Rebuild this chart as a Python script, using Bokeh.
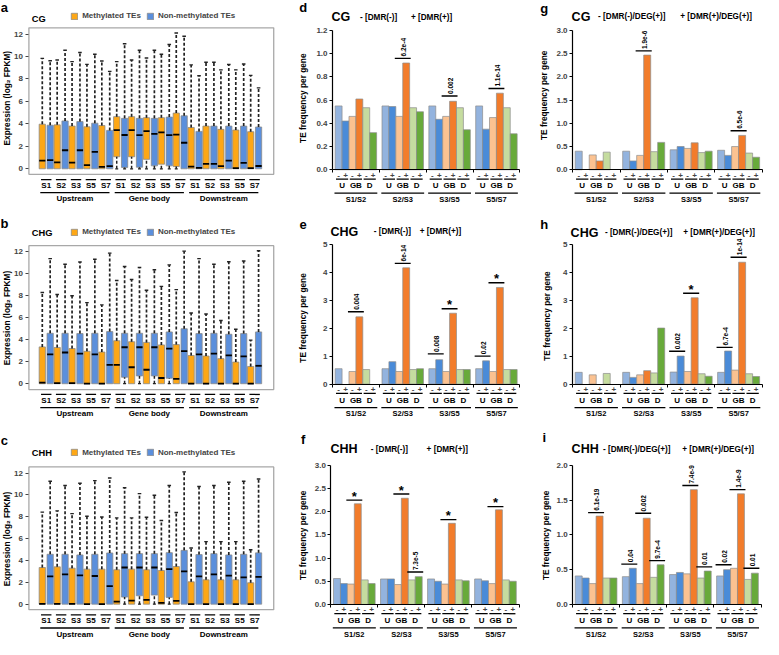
import math
from bokeh.plotting import figure
from bokeh.models import (Range1d, LinearAxis, FixedTicker, NumeralTickFormatter,
                          Legend, LegendItem)
from bokeh.layouts import row, column
from bokeh.embed import file_html
from bokeh.resources import INLINE
from bokeh.core.properties import value

FONT = "Liberation Sans"

# ---------------- category / tick labels ----------------
samples = ["S1", "S2", "S3", "S5", "S7"]
regions = ["Upstream", "Gene body", "Downstream"]
box_legend = ["Methylated TEs", "Non-methylated TEs"]
box_yticks = [0, 2, 4, 6, 8, 10, 12]
comparisons = ["S1/S2", "S2/S3", "S3/S5", "S5/S7"]
features = ["U", "GB", "D"]
signs = ["-", "+"]

# ---------------- panels a-c: box statistics (log2 FPKM) ----------------
# order: Upstream S1,S2,S3,S5,S7 | Gene body S1..S7 | Downstream S1..S7
cg_met_q1 = [0, 0, 0, 0, 0, 1.07, 1.07, 0.84, 0.41, 0.20, 0, 0, 0, 0, 0]
cg_met_med = [0.72, 0.58, 0.55, 0.32, 0.17, 3.45, 3.45, 3.36, 3.25, 3.04, 0.20, 0.43, 0.23, 0.06, 0.06]
cg_met_q3 = [3.97, 3.91, 3.80, 3.74, 3.85, 4.64, 4.64, 4.55, 4.55, 4.96, 3.68, 3.80, 3.51, 3.45, 3.30]
cg_met_wt = [9.83, 9.68, 9.54, 9.30, 9.60, 9.54, 9.68, 9.86, 10.20, 12.09, 9.25, 9.48, 8.81, 8.81, 8.32]
cg_non_q1 = [0, 0, 0, 0, 0, 0.12, 0.14, 0.26, 0.26, 0, 0, 0, 0, 0, 0]
cg_non_med = [0.78, 1.65, 1.65, 1.50, 0.23, 3.01, 2.99, 3.10, 2.99, 2.32, 0.09, 0.43, 0.72, 0.52, 0.25]
cg_non_q3 = [3.88, 4.26, 4.20, 4.06, 3.42, 4.49, 4.49, 4.49, 4.60, 4.72, 3.33, 3.80, 3.80, 3.80, 3.72]
cg_non_wt = [9.62, 10.55, 10.35, 10.20, 8.67, 11.13, 10.55, 10.55, 11.07, 11.80, 8.29, 9.48, 9.28, 9.33, 7.20]

chg_met_q1 = [0, 0, 0, 0, 0, 0, 0, 0, 0, 0, 0, 0, 0, 0, 0]
chg_met_med = [0.10, 0.05, 0.05, 0, 0, 1.72, 1.50, 1.27, 0.52, 0.44, 0, 0, 0, 0, 0]
chg_met_q3 = [3.35, 3.30, 3.20, 2.95, 2.88, 3.91, 3.82, 3.76, 3.53, 3.56, 2.57, 2.52, 2.28, 1.97, 1.57]
chg_met_wt = [8.30, 8.12, 8.00, 7.38, 7.17, 9.39, 9.48, 8.50, 8.86, 8.56, 6.43, 6.34, 5.75, 4.95, 3.97]
chg_non_q1 = [0, 0, 0, 0, 0, 0.59, 0.71, 0.71, 0.50, 0, 0, 0, 0, 0, 0]
chg_non_med = [2.67, 2.84, 2.73, 2.67, 1.72, 3.32, 3.32, 3.32, 3.20, 2.96, 2.67, 2.73, 2.58, 2.49, 1.63]
chg_non_q3 = [4.59, 4.59, 4.56, 4.59, 4.74, 4.59, 4.59, 4.59, 4.71, 5.00, 4.56, 4.59, 4.50, 4.56, 4.71]
chg_non_wt = [11.38, 10.87, 11.08, 11.32, 11.88, 10.67, 10.58, 10.37, 10.81, 12.06, 11.38, 10.87, 11.10, 11.17, 12.10]

chh_met_q1 = [0, 0, 0, 0, 0, 0, 0, 0, 0, 0, 0, 0, 0, 0, 0]
chh_met_med = [0.02, 0.03, 0.03, 0, 0, 0.24, 0.33, 0.39, 0.12, 0.30, 0, 0, 0, 0, 0]
chh_met_q3 = [3.36, 3.42, 3.30, 3.21, 3.21, 3.15, 3.21, 3.15, 3.09, 3.45, 2.05, 2.23, 2.23, 2.23, 1.96]
chh_met_wt = [8.43, 8.55, 8.29, 8.05, 7.99, 7.90, 7.90, 7.96, 7.66, 8.40, 5.14, 5.73, 5.73, 5.73, 4.99]
chh_non_q1 = [0, 0, 0, 0, 0, 0.65, 0.77, 0.83, 0.62, 0, 0, 0, 0, 0, 0]
chh_non_med = [2.55, 2.73, 2.64, 2.58, 1.66, 3.36, 3.36, 3.36, 3.21, 3.00, 2.55, 2.73, 2.61, 2.46, 2.50]
chh_non_q3 = [4.57, 4.57, 4.51, 4.57, 4.69, 4.63, 4.63, 4.63, 4.72, 4.93, 4.54, 4.63, 4.51, 4.57, 4.70]
chh_non_wt = [11.26, 10.87, 11.08, 11.32, 11.55, 10.66, 10.13, 9.98, 10.87, 12.12, 10.78, 10.87, 11.17, 11.26, 11.47]

# ---------------- panels d-i: TE frequency per gene ----------------
# per comparison: U(-), U(+), GB(-), GB(+), D(-), D(+)
d_vals = [0.55, 0.42, 0.46, 0.61, 0.535, 0.32,
          0.55, 0.545, 0.46, 0.92, 0.535, 0.50,
          0.55, 0.435, 0.46, 0.59, 0.535, 0.345,
          0.55, 0.35, 0.45, 0.66, 0.535, 0.31]
e_vals = [0.55, 0, 0.45, 2.40, 0.52, 0,
          0.55, 0.80, 0.45, 4.15, 0.52, 0.55,
          0.55, 0.87, 0.45, 2.53, 0.52, 0.52,
          0.55, 0.83, 0.45, 3.45, 0.52, 0.52]
f_vals = [0.56, 0.45, 0.44, 2.17, 0.53, 0.45,
          0.55, 0.55, 0.43, 2.29, 0.53, 0.60,
          0.55, 0.50, 0.44, 1.75, 0.53, 0.51,
          0.55, 0.51, 0.45, 2.04, 0.53, 0.50]
g_vals = [0.40, 0, 0.32, 0.19, 0.38, 0,
          0.40, 0.19, 0.31, 2.47, 0.39, 0.59,
          0.43, 0.50, 0.46, 0.58, 0.37, 0.40,
          0.42, 0.31, 0.50, 0.74, 0.36, 0.27]
h_vals = [0.42, 0, 0.33, 0, 0.38, 0,
          0.42, 0.24, 0.33, 0.48, 0.40, 2.00,
          0.43, 1.00, 0.45, 3.08, 0.37, 0.28,
          0.42, 1.18, 0.50, 4.35, 0.37, 0.27]
i_vals = [0.41, 0.38, 0.30, 1.27, 0.38, 0.38,
          0.40, 0.52, 0.30, 1.24, 0.39, 0.57,
          0.43, 0.46, 0.44, 1.65, 0.38, 0.48,
          0.41, 0.50, 0.52, 1.59, 0.36, 0.45]

d_yticks = [0, 0.2, 0.4, 0.6, 0.8, 1.0, 1.2]
e_yticks = [0, 1, 2, 3, 4, 5]
f_yticks = [0, 0.5, 1.0, 1.5, 2.0, 2.5, 3.0]
g_yticks = [0, 0.5, 1.0, 1.5, 2.0, 2.5, 3.0]
h_yticks = [0, 1, 2, 3, 4, 5]
i_yticks = [0, 0.5, 1.0, 1.5, 2.0]

# significance annotations: comparison index, feature index, label, bracket level
d_ann_g, d_ann_f, d_ann_t, d_ann_y = [1, 2, 3], [1, 1, 1], ["6.2e-4", "0.002", "1.1e-14"], [0.96, 0.636, 0.70]
e_ann_g, e_ann_f = [0, 1, 2, 2, 3, 3], [1, 1, 0, 1, 0, 1]
e_ann_t, e_ann_y = ["0.004", "6e-14", "0.008", "*", "0.02", "*"], [2.58, 4.31, 1.08, 2.69, 1.00, 3.62]
f_ann_g, f_ann_f = [0, 1, 1, 2, 3], [1, 1, 2, 1, 1]
f_ann_t, f_ann_y = ["*", "*", "7.3e-5", "*", "*"], [2.25, 2.38, 0.70, 1.83, 2.11]
g_ann_g, g_ann_f, g_ann_t, g_ann_y = [1, 3], [1, 1], ["1.9e-6", "6.5e-6"], [2.56, 0.84]
h_ann_g, h_ann_f = [2, 2, 3, 3], [0, 1, 0, 1]
h_ann_t, h_ann_y = ["0.002", "*", "6.7e-4", "1e-14"], [1.17, 3.24, 1.31, 4.53]
i_ann_g, i_ann_f = [0, 1, 1, 1, 2, 2, 3, 3, 3], [1, 0, 1, 2, 1, 2, 0, 1, 2]
i_ann_t = ["6.1e-19", "0.04", "0.002", "9.7e-4", "7.4e-9", "0.01", "0.02", "1.4e-9", "0.01"]
i_ann_y = [1.32, 0.58, 1.31, 0.63, 1.71, 0.54, 0.57, 1.65, 0.52]

# ---------------- styles ----------------
ORANGE = "#FDA716"
BLUE = "#5B8FDC"
BAR_COLORS = ["#93B3DE", "#4A8BD8", "#FBC291", "#F27C2B", "#C5DC9F", "#68AA3A"]
GAP = 6.78

# reference layout cells (x0, x1, width px) / (y0, y1, height px)
COLS = [(0, 290, 284), (290, 540, 245), (540, 779, 234)]
ROWS = [(0, 215, 210), (215, 432, 212), (432, 655, 217)]


def mapper(x0, xs, y0, ys):
    return (lambda rx: (rx - x0) / xs), (lambda ry: (y0 - ry) / ys)


def make_fig(ci, ri, dx, dy):
    X0, X1, W = COLS[ci]
    Y0, Y1, H = ROWS[ri]
    p = figure(width=W, height=H, x_range=Range1d(dx(X0), dx(X1)),
               y_range=Range1d(dy(Y1), dy(Y0)), x_axis_type=None, y_axis_type=None,
               output_backend="svg", toolbar_location=None, tools="", title=None,
               min_border=0, outline_line_color=None)
    return p


def txt(p, xs, ys, texts, size, align="center", baseline="middle", angle=0.0):
    p.text(x=xs, y=ys, text=texts, text_font=value(FONT), text_font_size=f"{size}px",
           text_font_style="bold", text_align=align, text_baseline=baseline,
           angle=angle, text_color="black")


def box_panel(ri, zero_ref, unit_ref, frame_ref, title, title_cy, legend_cy,
              letter, letter_cy, ylab_cy, met, non):
    dx, dy = mapper(46.7, 15.2, zero_ref, unit_ref)
    X0, X1, W = COLS[0]
    Y0, Y1, H = ROWS[ri]
    p = make_fig(0, ri, dx, dy)
    ft, fb = frame_ref
    p.quad(left=dx(29), right=dx(279), bottom=dy(fb), top=dy(ft), fill_color=None,
           line_color="#A8A8A8", line_width=1.3)
    k = list(range(15))
    rends = []
    for (q1, med, q3, wt), off, col in [(met, -0.265, ORANGE), (non, 0.265, BLUE)]:
        xs = [i + off for i in k]
        r = p.vbar(x=xs, width=0.42, bottom=q1, top=q3, fill_color=col,
                   line_color="#8A8A8A", line_width=0.8)
        rends.append(r)
        p.segment(x0=[x - 0.21 for x in xs], x1=[x + 0.21 for x in xs], y0=med, y1=med,
                  line_color="black", line_width=1.8)
        p.segment(x0=xs, x1=xs, y0=q3, y1=wt, line_color="#222222", line_width=1.7,
                  line_dash="3 2")
        p.segment(x0=[x - 0.12 for x in xs], x1=[x + 0.12 for x in xs], y0=wt, y1=wt,
                  line_color="#222222", line_width=1.4)
        lx = [x for x, a in zip(xs, q1) if a > 0]
        lq = [a for a in q1 if a > 0]
        if lx:
            base = [box_yticks[0] for _ in lx]
            p.segment(x0=lx, x1=lx, y0=base, y1=lq, line_color="#222222", line_width=1.5,
                      line_dash="3 2")
            p.segment(x0=[x - 0.1 for x in lx], x1=[x + 0.1 for x in lx], y0=base, y1=base,
                      line_color="#222222", line_width=1.2)
    # y axis
    yax = LinearAxis(fixed_location=dx(29), ticker=FixedTicker(ticks=box_yticks),
                     bounds=(dy(fb), dy(ft)), axis_line_color=None,
                     major_tick_out=3, major_tick_in=0, minor_tick_out=0, minor_tick_in=0,
                     major_tick_line_color="#444444",
                     major_label_text_font=FONT, major_label_text_font_style="bold",
                     major_label_text_font_size="8px", major_label_standoff=3)
    p.add_layout(yax, "left")
    # category labels
    p.segment(x0=[i - 0.35 for i in k], x1=[i + 0.35 for i in k],
              y0=dy(zero_ref + 11), y1=dy(zero_ref + 11), line_color="black", line_width=1.3)
    txt(p, k, [dy(zero_ref + 17)] * 15, samples * 3, 8)
    gx0 = [gi * 5 - 0.4 for gi in range(3)]
    gx1 = [gi * 5 + 4.25 for gi in range(3)]
    p.segment(x0=gx0, x1=gx1, y0=dy(zero_ref + 24.5), y1=dy(zero_ref + 24.5),
              line_color="black", line_width=1.3)
    txt(p, [(a + b) / 2 for a, b in zip(gx0, gx1)], [dy(zero_ref + 30.8)] * 3, regions, 8)
    # titles
    txt(p, [dx(6.5)], [dy(ylab_cy)], ["Expression (log\u2082 FPKM)"], 8.3, angle=math.pi / 2)
    txt(p, [dx(4)], [dy(letter_cy)], [letter], 13)
    txt(p, [dx(32)], [dy(title_cy)], [title], 9.3, align="left")
    sx = W / (X1 - X0)
    sy = H / (Y1 - Y0)
    leg = Legend(items=[LegendItem(label=box_legend[0], renderers=[rends[0]]),
                        LegendItem(label=box_legend[1], renderers=[rends[1]])],
                 orientation="horizontal",
                 location=((71.7 - X0) * sx, (Y1 - (legend_cy + 4.5)) * sy),
                 padding=0, margin=0, spacing=5, glyph_width=8, glyph_height=8,
                 label_standoff=4, label_height=9, label_width=10,
                 label_text_font=FONT, label_text_font_style="bold",
                 label_text_font_size="8px", border_line_color=None,
                 background_fill_alpha=0)
    p.add_layout(leg)
    return p


def bar_panel(ci, ri, x0ref, xsref, zero_ref, unit_ref, vals, yticks, fmt,
              ann_g, ann_f, ann_t, ann_y, title, neg_lab, pos_lab, title_x, neg_x, pos_x,
              title_cy, letter, letter_xy, ylab_xy):
    dx, dy = mapper(x0ref, xsref, zero_ref, unit_ref)
    p = make_fig(ci, ri, dx, dy)
    xs, tops, cols = [], [], []
    for g in range(4):
        for j in range(6):
            v = vals[g * 6 + j]
            if v > 0:
                xs.append(g * GAP + j + 0.5)
                tops.append(v)
                cols.append(BAR_COLORS[j])
    p.vbar(x=xs, top=tops, bottom=0, width=1.0, fill_color=cols, line_color="#8C8C8C",
           line_width=0.7)
    yax = LinearAxis(fixed_location=-0.38, ticker=FixedTicker(ticks=yticks),
                     formatter=NumeralTickFormatter(format=fmt), bounds=(0, yticks[-1]),
                     axis_line_color="black", axis_line_width=1.2,
                     major_tick_out=3, major_tick_in=0, minor_tick_out=0, minor_tick_in=0,
                     major_label_text_font=FONT, major_label_text_font_style="bold",
                     major_label_text_font_size="8px", major_label_standoff=2)
    p.add_layout(yax, "left")
    # x axis: "-"/"+" labels under each bar, small ticks between comparisons
    bx = [g * GAP + j + 0.5 for g in range(4) for j in range(6)]
    xb = [g * GAP - 0.38 for g in range(5)]
    overrides = {x: signs[n % 2] for n, x in enumerate(bx)}
    xax = LinearAxis(fixed_location=0, ticker=FixedTicker(ticks=bx, minor_ticks=xb),
                     bounds=(xb[0], xb[-1]), axis_line_color="black", axis_line_width=1.2,
                     major_tick_out=0, major_tick_in=0, minor_tick_out=3, minor_tick_in=0,
                     minor_tick_line_color="black", major_label_overrides=overrides,
                     major_label_text_font=FONT, major_label_text_font_style="bold",
                     major_label_text_font_size="8px", major_label_standoff=0)
    p.add_layout(xax, "below")
    px0 = [g * GAP + 2 * f + 0.12 for g in range(4) for f in range(3)]
    p.segment(x0=px0, x1=[a + 1.76 for a in px0], y0=dy(zero_ref + 9.5), y1=dy(zero_ref + 9.5),
              line_color="black", line_width=1.3)
    txt(p, [a + 0.88 for a in px0], [dy(zero_ref + 16.3)] * 12, features * 4, 8)
    gx0 = [g * GAP - 0.1 for g in range(4)]
    p.segment(x0=gx0, x1=[a + 6.2 for a in gx0], y0=dy(zero_ref + 24), y1=dy(zero_ref + 24),
              line_color="black", line_width=1.3)
    txt(p, [a + 3.1 for a in gx0], [dy(zero_ref + 30.5)] * 4, comparisons, 7.5)
    # annotations
    for g, f, t, ly in zip(ann_g, ann_f, ann_t, ann_y):
        cx = g * GAP + 2 * f + 1
        p.segment(x0=[cx - 1.15], x1=[cx + 1.15], y0=[ly], y1=[ly], line_color="black",
                  line_width=1.4)
        if t == "*":
            txt(p, [cx], [ly + 4.0 / unit_ref], [t], 13)
        else:
            txt(p, [cx + 0.1], [ly + 2.0 / unit_ref], [t], 6.5, align="left",
                angle=math.pi / 2)
    # titles
    txt(p, [dx(title_x)], [dy(title_cy)], [title], 12.5, align="left")
    txt(p, [dx(neg_x)], [dy(title_cy)], [neg_lab], 8.2, align="left")
    txt(p, [dx(pos_x)], [dy(title_cy)], [pos_lab], 8.2, align="left")
    txt(p, [dx(letter_xy[0])], [dy(letter_xy[1])], [letter], 13)
    txt(p, [dx(ylab_xy[0])], [dy(ylab_xy[1])], ["TE frequency per gene"], 8.3,
        angle=math.pi / 2)
    return p


pa = box_panel(0, 172.3, 11.5, (28, 178), "CG", 19, 16, "a", 7, 100,
               (cg_met_q1, cg_met_med, cg_met_q3, cg_met_wt),
               (cg_non_q1, cg_non_med, cg_non_q3, cg_non_wt))
pb = box_panel(1, 392.3, 11.25, (251, 398.3), "CHG", 238.3, 237.5, "b", 228, 325,
               (chg_met_q1, chg_met_med, chg_met_q3, chg_met_wt),
               (chg_non_q1, chg_non_med, chg_non_q3, chg_non_wt))
pc = box_panel(2, 618.7, 11.22, (477.7, 624.3), "CHH", 463.3, 463.3, "c", 451, 551.7,
               (chh_met_q1, chh_met_med, chh_met_q3, chh_met_wt),
               (chh_non_q1, chh_non_med, chh_non_q3, chh_non_wt))

NEG1, POS1 = "-  [DMR(-)]", "+  [DMR(+)]"
NEG2, POS2 = "-  [DMR(-)/DEG(+)]", "+  [DMR(+)/DEG(+)]"

pd_ = bar_panel(1, 0, 341.7, 7.05, 173.3, 118.8, d_vals, d_yticks, "0.0",
                d_ann_g, d_ann_f, d_ann_t, d_ann_y, "CG", NEG1, POS1, 338, 367, 419, 17.3,
                "d", (309, 7), (309, 100))
pe = bar_panel(1, 1, 341.7, 7.05, 392.7, 28.68, e_vals, e_yticks, "0",
               e_ann_g, e_ann_f, e_ann_t, e_ann_y, "CHG", NEG1, POS1, 337, 381, 428, 236.7,
               "e", (309, 229), (309, 325))
pf = bar_panel(1, 2, 340.0, 7.08, 619.0, 47.67, f_vals, f_yticks, "0.0",
               f_ann_g, f_ann_f, f_ann_t, f_ann_y, "CHH", NEG1, POS1, 337, 378, 435, 459.3,
               "f", (309, 449), (309, 548))
pg = bar_panel(2, 0, 586.7, 7.15, 173.3, 47.53, g_vals, g_yticks, "0.0",
               g_ann_g, g_ann_f, g_ann_t, g_ann_y, "CG", NEG2, POS2, 583, 610, 694, 16.7,
               "g", (555, 8), (555, 97))
ph = bar_panel(2, 1, 586.7, 7.15, 392.7, 28.68, h_vals, h_yticks, "0",
               h_ann_g, h_ann_f, h_ann_t, h_ann_y, "CHG", NEG2, POS2, 582, 617, 697, 237.7,
               "h", (555, 229), (558, 323))
pi_ = bar_panel(2, 2, 586.7, 7.10, 619.0, 71.5, i_vals, i_yticks, "0.0",
                i_ann_g, i_ann_f, i_ann_t, i_ann_y, "CHH", NEG2, POS2, 583, 615, 696, 459.3,
                "i", (555, 447), (557, 548))

layout = column(row(pa, pd_, pg), row(pb, pe, ph), row(pc, pf, pi_))
open("out.html", "w").write(file_html(layout, INLINE))
